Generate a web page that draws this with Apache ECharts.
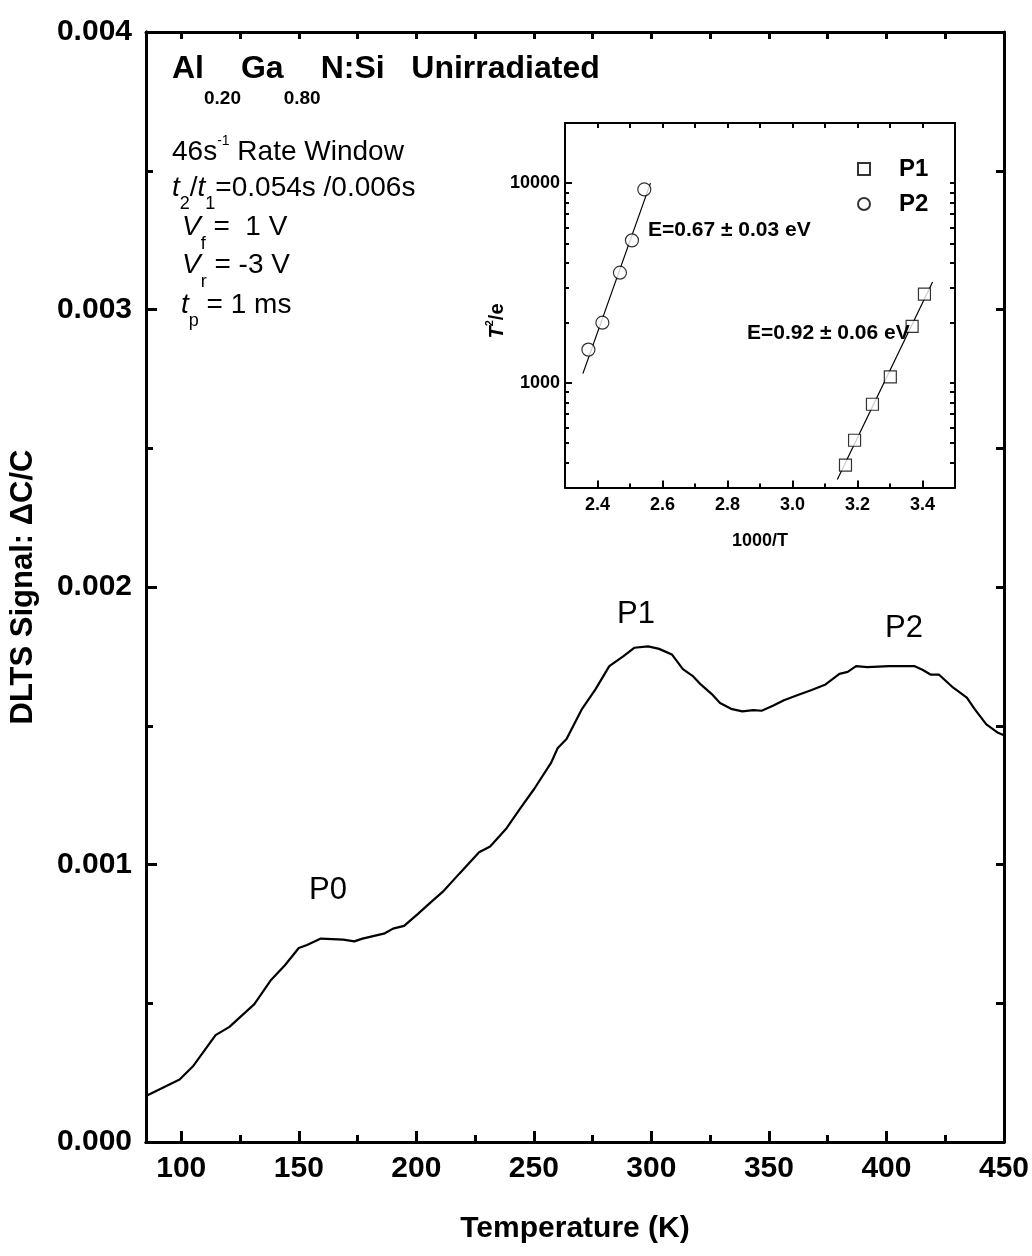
<!DOCTYPE html>
<html>
<head>
<meta charset="utf-8">
<script src="https://cdn.jsdelivr.net/npm/echarts@6/dist/echarts.min.js"></script>
<style>
  html, body { margin: 0; padding: 0; background: #fff; }
  #chart { width: 1032px; height: 1256px; }
</style>
</head>
<body>
<div id="chart"></div>
<script>
// ---------------- main DLTS spectrum ----------------
const tempK = [85, 99.3, 105.2, 114.6, 120.5, 131.1, 138.2, 144.1, 150, 153.5, 159.4, 168.9, 173.6, 177.1, 186.6, 190.1, 194.8, 200.7, 205.4, 211.3, 218.4, 226.7, 231.4, 238.4, 244.3, 250.2, 257.3, 260.1, 263.9, 270.3, 276.2, 282.1, 288, 292.7, 298.6, 303.3, 308.7, 313.4, 317.5, 321, 325.7, 329.2, 333.9, 338.7, 343.4, 346.9, 351.7, 356.4, 362.3, 368.2, 374.1, 380, 383.5, 387.1, 391.8, 401.2, 411.8, 415.3, 418.9, 422.4, 428.3, 434.2, 437.7, 442.5, 447.2, 450];
const dltsSignal = [0.000166, 0.000225, 0.000275, 0.000385, 0.000415, 0.000497, 0.000584, 0.000637, 0.000699, 0.00071, 0.000733, 0.000729, 0.000723, 0.000733, 0.000752, 0.000769, 0.000779, 0.000822, 0.000858, 0.000902, 0.000968, 0.001044, 0.001065, 0.001131, 0.001203, 0.001273, 0.001366, 0.001419, 0.001452, 0.001558, 0.001631, 0.001715, 0.00175, 0.001781, 0.001786, 0.001777, 0.001757, 0.001704, 0.00168, 0.001649, 0.001614, 0.001582, 0.001561, 0.001552, 0.001556, 0.001554, 0.001572, 0.001592, 0.001611, 0.001629, 0.001649, 0.001687, 0.001694, 0.001715, 0.001711, 0.001715, 0.001715, 0.001702, 0.001684, 0.001684, 0.001638, 0.001601, 0.001558, 0.001505, 0.001476, 0.001466];

const mainXLabels = [100, 150, 200, 250, 300, 350, 400, 450];
const mainXMinor = [125, 175, 225, 275, 325, 375, 425];
const mainXAll = [100, 125, 150, 175, 200, 225, 250, 275, 300, 325, 350, 375, 400, 425];
const mainYLabels = [0, 0.001, 0.002, 0.003, 0.004];
const mainYMajor = [0.001, 0.002, 0.003];
const mainYMinor = [0.0005, 0.0015, 0.0025, 0.0035];
const mainYAll = [0.0005, 0.001, 0.0015, 0.002, 0.0025, 0.003, 0.0035];

// ---------------- inset Arrhenius plot ----------------
const p1InvT = [3.163, 3.191, 3.246, 3.301, 3.368, 3.406];
const p1T2e = [388, 517, 783, 1072, 1921, 2786];
const p2InvT = [2.372, 2.415, 2.469, 2.506, 2.544];
const p2T2e = [1469, 2004, 3565, 5173, 9306];
const p1FitInvT = [3.138, 3.431];
const p1FitT2e = [329, 3199];
const p2FitInvT = [2.355, 2.563];
const p2FitT2e = [1114, 10000];

const insetXLabels = [2.4, 2.6, 2.8, 3.0, 3.2, 3.4];
const insetXMinor = [2.5, 2.7, 2.9, 3.1, 3.3];
const insetXAll = [2.4, 2.5, 2.6, 2.7, 2.8, 2.9, 3.0, 3.1, 3.2, 3.3, 3.4];
const insetYLabels = [1000, 10000];
const insetYMinor = [400, 500, 600, 700, 800, 900, 2000, 3000, 4000, 5000, 6000, 7000, 8000, 9000];
const insetYAll = [400, 500, 600, 700, 800, 900, 1000, 2000, 3000, 4000, 5000, 6000, 7000, 8000, 9000, 10000];

const peakNames = ['P0', 'P1', 'P2'];

const FONT = "'Liberation Sans', Arial, Helvetica, sans-serif";
const NARROW = "'Liberation Sans Narrow', 'Arial Narrow', 'Liberation Sans', Arial, sans-serif";

function zip(a, b) { return a.map((v, i) => [v, b[i]]); }

// rich text line with sub/superscripts, baseline-aligned
function richLine(x, baseline, pieces, family) {
  const top = baseline - 45;
  const rich = {};
  let text = '';
  pieces.forEach((p, i) => {
    const fs = p.fs;
    const pad = Math.max(0, baseline + (p.shift || 0) - top - 0.8465 * fs);
    rich['s' + i] = {
      fontSize: fs, lineHeight: fs, fontFamily: family,
      fontWeight: p.w || 'normal', fontStyle: p.it ? 'italic' : 'normal',
      color: '#000', padding: [pad, 0, 0, 0], verticalAlign: 'top'
    };
    text += '{s' + i + '|' + p.t + '}';
  });
  return { type: 'text', x: x, y: top, z: 100, style: { text: text, rich: rich, align: 'left', verticalAlign: 'top' } };
}

const chart = echarts.init(document.getElementById('chart'), null, { renderer: 'canvas' });

const mainGrid = { left: 145, top: 32, right: 28, bottom: 114 };
const insetGrid = { left: 565, top: 123, right: 77, bottom: 768.5 };

function tickAxisBase(extra) {
  return Object.assign({
    type: 'value', splitLine: { show: false },
    axisLine: { show: true, onZero: false, lineStyle: { color: '#000', width: 3 } }
  }, extra);
}

const option = {
  backgroundColor: '#fff',
  animation: false,
  grid: [
    Object.assign({}, mainGrid),
    Object.assign({}, insetGrid)
  ],
  xAxis: [
    // 0 main bottom, labels + major ticks
    tickAxisBase({
      gridIndex: 0, position: 'bottom', min: 85, max: 450,
      axisTick: { show: true, inside: true, length: 11, lineStyle: { color: '#000', width: 3 }, customValues: mainXLabels },
      axisLabel: { show: true, margin: 12, color: '#000', fontSize: 30, fontWeight: 'bold', fontFamily: FONT, customValues: mainXLabels, formatter: v => String(Math.round(v)) },
      name: 'Temperature (K)', nameLocation: 'middle', nameGap: 72,
      nameTextStyle: { color: '#000', fontSize: 30, fontWeight: 'bold', fontFamily: FONT, verticalAlign: 'top' }
    }),
    // 1 main bottom, minor ticks
    tickAxisBase({
      gridIndex: 0, position: 'bottom', min: 85, max: 450,
      axisTick: { show: true, inside: true, length: 7, lineStyle: { color: '#000', width: 3 }, customValues: mainXMinor },
      axisLabel: { show: false }
    }),
    // 2 main top
    tickAxisBase({
      gridIndex: 0, position: 'top', min: 85, max: 450,
      axisTick: { show: true, inside: true, length: 7, lineStyle: { color: '#000', width: 3 }, customValues: mainXAll },
      axisLabel: { show: false }
    }),
    // 3 inset bottom, labels + major
    tickAxisBase({
      gridIndex: 1, position: 'bottom', min: 2.3, max: 3.5,
      axisLine: { show: true, onZero: false, lineStyle: { color: '#000', width: 2 } },
      axisTick: { show: true, inside: true, length: 7, lineStyle: { color: '#000', width: 2 }, customValues: insetXLabels },
      axisLabel: { show: true, margin: 9, color: '#000', fontSize: 18, fontWeight: 'bold', fontFamily: NARROW, customValues: insetXLabels, formatter: v => v.toFixed(1) },
      name: '1000/T', nameLocation: 'middle', nameGap: 45,
      nameTextStyle: { color: '#000', fontSize: 18, fontWeight: 'bold', fontFamily: NARROW, verticalAlign: 'top' }
    }),
    // 4 inset bottom minor
    tickAxisBase({
      gridIndex: 1, position: 'bottom', min: 2.3, max: 3.5,
      axisLine: { show: false },
      axisTick: { show: true, inside: true, length: 4, lineStyle: { color: '#000', width: 2 }, customValues: insetXMinor },
      axisLabel: { show: false }
    }),
    // 5 inset top
    tickAxisBase({
      gridIndex: 1, position: 'top', min: 2.3, max: 3.5,
      axisLine: { show: true, onZero: false, lineStyle: { color: '#000', width: 2 } },
      axisTick: { show: true, inside: true, length: 5, lineStyle: { color: '#000', width: 2 }, customValues: insetXAll },
      axisLabel: { show: false }
    })
  ],
  yAxis: [
    // 0 main left labels + major
    tickAxisBase({
      gridIndex: 0, position: 'left', min: 0, max: 0.004,
      axisTick: { show: true, inside: true, length: 11, lineStyle: { color: '#000', width: 3 }, customValues: mainYMajor },
      axisLabel: { show: true, margin: 14, color: '#000', fontSize: 30, fontWeight: 'bold', fontFamily: FONT, customValues: mainYLabels, formatter: v => v.toFixed(3) },
      name: 'DLTS Signal: \u0394C/C', nameLocation: 'middle', nameGap: 107, nameRotate: 90,
      nameTextStyle: { color: '#000', fontSize: 31, fontWeight: 'bold', fontFamily: FONT }
    }),
    // 1 main left minor
    tickAxisBase({
      gridIndex: 0, position: 'left', min: 0, max: 0.004,
      axisTick: { show: true, inside: true, length: 7, lineStyle: { color: '#000', width: 3 }, customValues: mainYMinor },
      axisLabel: { show: false }
    }),
    // 2 main right
    tickAxisBase({
      gridIndex: 0, position: 'right', min: 0, max: 0.004,
      axisTick: { show: true, inside: true, length: 8, lineStyle: { color: '#000', width: 3 }, customValues: mainYAll },
      axisLabel: { show: false }
    }),
    // 3 inset left, log, labels + major
    {
      type: 'log', logBase: 10, gridIndex: 1, position: 'left', min: 300, max: 20000,
      splitLine: { show: false },
      axisLine: { show: true, onZero: false, lineStyle: { color: '#000', width: 2 } },
      axisTick: { show: true, inside: true, length: 7, lineStyle: { color: '#000', width: 2 }, customValues: insetYLabels },
      axisLabel: { show: true, margin: 5, color: '#000', fontSize: 18, fontWeight: 'bold', fontFamily: NARROW, customValues: insetYLabels, formatter: v => String(Math.round(v)) }
    },
    // 4 inset left minor
    {
      type: 'log', logBase: 10, gridIndex: 1, position: 'left', min: 300, max: 20000,
      splitLine: { show: false },
      axisLine: { show: false },
      axisTick: { show: true, inside: true, length: 4, lineStyle: { color: '#000', width: 2 }, customValues: insetYMinor },
      axisLabel: { show: false }
    },
    // 5 inset right
    {
      type: 'log', logBase: 10, gridIndex: 1, position: 'right', min: 300, max: 20000,
      splitLine: { show: false },
      axisLine: { show: true, onZero: false, lineStyle: { color: '#000', width: 2 } },
      axisTick: { show: true, inside: true, length: 5, lineStyle: { color: '#000', width: 2 }, customValues: insetYAll },
      axisLabel: { show: false }
    }
  ],
  legend: {
    left: 852, top: 152, orient: 'vertical',
    itemWidth: 12, itemHeight: 12, itemGap: 11,
    selectedMode: false,
    data: [{ name: 'P1' }, { name: 'P2' }],
    textStyle: { color: '#000', fontSize: 24, lineHeight: 24, fontWeight: 'bold', fontFamily: FONT, padding: [0, 0, 0, 24] }
  },
  series: [
    {
      name: 'DLTS', type: 'line', xAxisIndex: 0, yAxisIndex: 0,
      data: zip(tempK, dltsSignal), showSymbol: false, symbol: 'none', smooth: false,
      lineStyle: { color: '#000', width: 2.2 }, z: 5
    },
    {
      name: 'P1 fit', type: 'line', xAxisIndex: 3, yAxisIndex: 3,
      data: zip(p1FitInvT, p1FitT2e), showSymbol: false, symbol: 'none',
      lineStyle: { color: '#000', width: 1.2 }, z: 5
    },
    {
      name: 'P2 fit', type: 'line', xAxisIndex: 3, yAxisIndex: 3,
      data: zip(p2FitInvT, p2FitT2e), showSymbol: false, symbol: 'none',
      lineStyle: { color: '#000', width: 1.2 }, z: 5
    },
    {
      name: 'P1', type: 'scatter', xAxisIndex: 3, yAxisIndex: 3,
      data: zip(p1InvT, p1T2e), symbol: 'rect', symbolSize: 12,
      itemStyle: { color: '#fff', borderColor: '#000', borderWidth: 1.2 }, z: 6
    },
    {
      name: 'P2', type: 'scatter', xAxisIndex: 3, yAxisIndex: 3,
      data: zip(p2InvT, p2T2e), symbol: 'circle', symbolSize: 13,
      itemStyle: { color: '#fff', borderColor: '#000', borderWidth: 1.2 }, z: 6
    }
  ],
  graphic: [
    richLine(172, 80, [
      { t: 'Al', fs: 32, w: 'bold' },
      { t: '0.20', fs: 19, w: 'bold', shift: 25 },
      { t: 'Ga', fs: 32, w: 'bold' },
      { t: '0.80', fs: 19, w: 'bold', shift: 25 },
      { t: 'N:Si   Unirradiated', fs: 32, w: 'bold' }
    ], FONT),
    richLine(172, 162, [
      { t: '46s', fs: 28 },
      { t: '-1', fs: 14, shift: -16 },
      { t: ' Rate Window', fs: 28 }
    ], FONT),
    richLine(172, 198, [
      { t: 't', fs: 28, it: true },
      { t: '2', fs: 18, shift: 12 },
      { t: '/', fs: 28 },
      { t: 't', fs: 28, it: true },
      { t: '1', fs: 18, shift: 12 },
      { t: '=0.054s /0.006s', fs: 28 }
    ], FONT),
    richLine(182, 237, [
      { t: 'V', fs: 28, it: true },
      { t: 'f', fs: 18, shift: 13 },
      { t: ' =  1 V', fs: 28 }
    ], FONT),
    richLine(182, 275, [
      { t: 'V', fs: 28, it: true },
      { t: 'r', fs: 18, shift: 13 },
      { t: ' = -3 V', fs: 28 }
    ], FONT),
    richLine(181, 315, [
      { t: 't', fs: 28, it: true },
      { t: 'p', fs: 18, shift: 12 },
      { t: ' = 1 ms', fs: 28 }
    ], FONT),
    { type: 'text', x: 328, y: 890, z: 100, style: { text: peakNames[0], fontSize: 31, fontFamily: FONT, fill: '#000', align: 'center', verticalAlign: 'middle' } },
    { type: 'text', x: 636, y: 614, z: 100, style: { text: peakNames[1], fontSize: 31, fontFamily: FONT, fill: '#000', align: 'center', verticalAlign: 'middle' } },
    { type: 'text', x: 904, y: 628, z: 100, style: { text: peakNames[2], fontSize: 31, fontFamily: FONT, fill: '#000', align: 'center', verticalAlign: 'middle' } },
    { type: 'text', x: 648, y: 230, z: 100, style: { text: 'E=0.67 \u00b1 0.03 eV', fontSize: 21, fontWeight: 'bold', fontFamily: NARROW, fill: '#000', align: 'left', verticalAlign: 'middle' } },
    { type: 'text', x: 747, y: 333, z: 100, style: { text: 'E=0.92 \u00b1 0.06 eV', fontSize: 21, fontWeight: 'bold', fontFamily: NARROW, fill: '#000', align: 'left', verticalAlign: 'middle' } },
    {
      type: 'text', x: 491, y: 321, rotation: Math.PI / 2, z: 100,
      style: {
        text: '{i|T}{s|2}{n|/e}', align: 'center', verticalAlign: 'middle',
        rich: {
          i: { fontSize: 20, lineHeight: 20, fontWeight: 'bold', fontStyle: 'italic', fontFamily: NARROW, color: '#000', verticalAlign: 'top', padding: [6, 0, 0, 0] },
          s: { fontSize: 11, lineHeight: 11, fontWeight: 'bold', fontFamily: NARROW, color: '#000', verticalAlign: 'top', padding: [3, 0, 0, 0] },
          n: { fontSize: 20, lineHeight: 20, fontWeight: 'bold', fontFamily: NARROW, color: '#000', verticalAlign: 'top', padding: [6, 0, 0, 0] }
        }
      }
    }
  ]
};

chart.setOption(option);
</script>
</body>
</html>
